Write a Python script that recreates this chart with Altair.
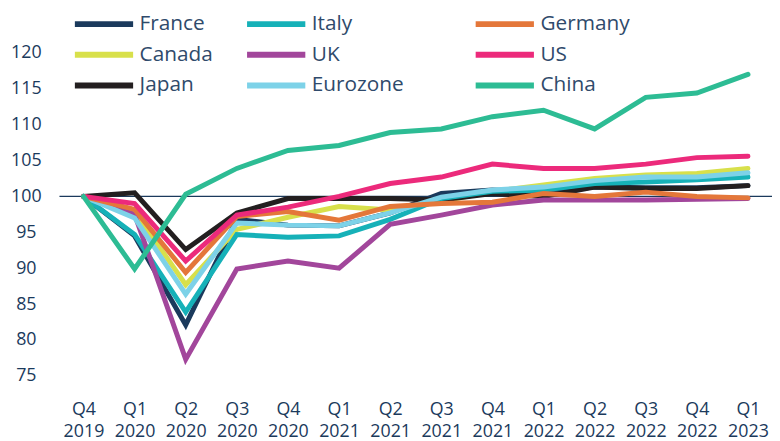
import altair as alt
import pandas as pd

quarters = ["Q4 2019", "Q1 2020", "Q2 2020", "Q3 2020", "Q4 2020", "Q1 2021", "Q2 2021",
            "Q3 2021", "Q4 2021", "Q1 2022", "Q2 2022", "Q3 2022", "Q4 2022", "Q1 2023"]

france   = [100, 94.5, 82.1, 96.8, 96.0, 95.9, 97.7, 100.4, 100.9, 100.6, 101.3, 101.2, 101.2, 101.5]
italy    = [100, 94.7, 83.9, 94.7, 94.3, 94.5, 96.8, 99.7, 100.7, 100.9, 101.8, 102.0, 102.3, 102.7]
germany  = [100, 98.2, 89.4, 97.2, 97.9, 96.7, 98.6, 99.0, 99.2, 100.4, 100.0, 100.6, 100.0, 99.8]
canada   = [100, 97.9, 87.7, 95.4, 97.1, 98.6, 98.1, 99.3, 100.7, 101.6, 102.5, 103.0, 103.2, 103.9]
uk       = [100, 97.5, 77.3, 89.9, 91.0, 90.0, 96.1, 97.4, 98.8, 99.5, 99.5, 99.5, 99.6, 99.7]
us       = [100, 99.0, 91.0, 97.4, 98.5, 100.0, 101.8, 102.7, 104.5, 103.9, 103.9, 104.5, 105.4, 105.6]
japan    = [100, 100.5, 92.6, 97.7, 99.7, 99.7, 99.7, 99.5, 100.4, 100.0, 101.3, 101.1, 101.1, 101.5]
eurozone = [100, 97.0, 86.4, 96.3, 96.0, 95.9, 97.7, 99.9, 100.9, 101.3, 102.2, 102.7, 102.7, 103.3]
china    = [100, 89.9, 100.3, 103.9, 106.4, 107.1, 108.9, 109.4, 111.1, 112.0, 109.4, 113.8, 114.4, 117.0]

series = {
    "France": france, "Italy": italy, "Germany": germany,
    "Canada": canada, "UK": uk, "US": us,
    "Japan": japan, "Eurozone": eurozone, "China": china,
}
colors = {
    "France": "#1b3a5c", "Italy": "#16b1b8", "Germany": "#e4773a",
    "Canada": "#d8e04b", "UK": "#a2469b", "US": "#ec2a7b",
    "Japan": "#231f20", "Eurozone": "#7dd2e8", "China": "#2dbc94",
}
legend_columns = [["France", "Canada", "Japan"],
                  ["Italy", "UK", "Eurozone"],
                  ["Germany", "US", "China"]]
legend_x = [32, 206, 437]

y_ticks = [75, 80, 85, 90, 95, 100, 105, 110, 115, 120]
reference_level = [100]

rows = []
for name, vals in series.items():
    for q, v in zip(quarters, vals):
        rows.append({"country": name, "quarter": q, "value": v})
df = pd.DataFrame(rows)

FONT = "Open Sans"
NAVY = "#1b3a5c"

x_enc = alt.X("quarter:O", sort=quarters,
              scale=alt.Scale(type="point", padding=0.47),
              axis=alt.Axis(title=None, labelAngle=0, labelExpr="split(datum.value, ' ')",
                            labelLineHeight=23, labelPadding=10, domain=False, ticks=False,
                            grid=False, labelFontSize=18, labelFont=FONT, labelColor=NAVY))
y_enc = alt.Y("value:Q",
              scale=alt.Scale(domain=[73, 120], nice=False, zero=False),
              axis=alt.Axis(title=None, values=y_ticks, domain=False, ticks=False, tickSize=0,
                            grid=False, labelAlign="center", labelPadding=34, labelOverlap=False,
                            labelFontSize=18, labelFont=FONT, labelColor=NAVY))

rule = alt.Chart(pd.DataFrame({"value": reference_level})).mark_rule(
    color=NAVY, strokeWidth=1.3).encode(y=y_enc)

layers = [rule]
for group, lx in zip(legend_columns, legend_x):
    layer = alt.Chart(df).transform_filter(
        alt.FieldOneOfPredicate(field="country", oneOf=group)
    ).mark_line(strokeWidth=5, strokeCap="round", strokeJoin="miter").encode(
        x=x_enc, y=y_enc,
        color=alt.Color("country:N", sort=group,
                        scale=alt.Scale(domain=group, range=[colors[c] for c in group]),
                        legend=alt.Legend(title=None, orient="none", legendX=lx, legendY=-42,
                                          direction="vertical",
                                          symbolType="M-3,0L3,0", symbolSize=385,
                                          symbolStrokeWidth=6, labelOffset=23,
                                          labelFontSize=21, labelFont=FONT, labelColor="#2f4a6b",
                                          rowPadding=6, padding=0))
    )
    layers.append(layer)

chart = alt.layer(*layers).resolve_scale(color="independent").properties(
    width=720, height=341,
    autosize=alt.AutoSizeParams(type="none"),
    padding={"left": 52, "top": 43, "right": 0, "bottom": 52},
).configure_view(stroke=None)

chart.save("out.html", embed_options={"renderer": "svg", "actions": False})
